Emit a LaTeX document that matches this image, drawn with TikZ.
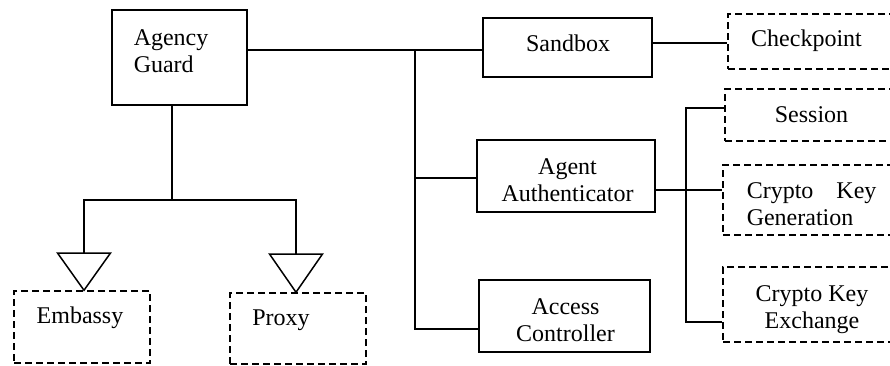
\documentclass[tikz,border=0pt]{standalone}
\usepackage{fontspec}
\setmainfont{Liberation Serif}
\usetikzlibrary{calc}
\begin{document}
\begin{tikzpicture}[x=1pt,y=-1pt,line width=1.5pt,
  box/.style={draw,rectangle,inner sep=0pt},
  dbox/.style={draw,rectangle,inner sep=0pt,dash pattern=on 7pt off 4pt},
  lbl/.style={font=\fontsize{24}{27}\selectfont,inner sep=0pt,align=center},
  lbll/.style={font=\fontsize{24}{27}\selectfont,inner sep=0pt,align=left,anchor=west}]
\useasboundingbox[fill=white] (0,0) rectangle (890,365);
\clip (0,0) rectangle (890,365);
% boxes
\node[box,minimum width=135pt,minimum height=95pt] (ag) at (179.5,57.5) {};
\node[box,minimum width=169pt,minimum height=59pt] (sb) at (567.5,47.5) {};
\node[box,minimum width=178pt,minimum height=72pt] (aa) at (566,176) {};
\node[box,minimum width=171pt,minimum height=72pt] (ac) at (564.5,316) {};
\node[dbox,minimum width=172pt,minimum height=55pt] (ck) at (814,41.5) {};
\node[dbox,minimum width=175pt,minimum height=52pt] (se) at (812.5,115) {};
\node[dbox,minimum width=177pt,minimum height=70pt] (ckg) at (811.5,200) {};
\node[dbox,minimum width=177pt,minimum height=75pt] (cke) at (811.5,304.5) {};
\node[dbox,minimum width=136pt,minimum height=72pt] (em) at (82,327) {};
\node[dbox,minimum width=136pt,minimum height=71pt] (px) at (298,328.5) {};
% labels
\node[lbll] (agt) at (133,53.1) {\strut Agency\\\strut Guard};
\node[lbl] (sbt) at (568,46.3) {\strut Sandbox};
\node[lbl] (aat) at (567.5,182.4) {\strut Agent\\\strut Authenticator};
\node[lbl] (act) at (565.5,323) {\strut Access\\\strut Controller};
\node[lbl] (ckt) at (806.5,41.3) {\strut Checkpoint};
\node[lbl] (set) at (811.5,117.3) {\strut Session};
\node[lbll] (ckgt) at (746,206.8) {\strut Crypto\hspace{17pt} Key\\\strut Generation};
\node[lbl] (cket) at (812,309.6) {\strut Crypto Key\\\strut Exchange};
\node[lbl] (emt) at (80,317.6) {\strut Embassy};
\node[lbl] (pxt) at (281,319.6) {\strut Proxy};
% junction coordinates
\coordinate (b0) at (415,50);
\coordinate (b1) at (415,178);
\coordinate (b2) at (415,329);
\coordinate (c0) at (700,43);
\coordinate (a0) at (686,190);
\coordinate (s0) at (686,108);
\coordinate (s1) at (686,322);
\coordinate (j0) at (172,200);
\coordinate (t1) at (84,253);
\coordinate (t2) at (296,254);
% connectors
\draw (ag.east |- b0) -- (b0) -- (b0 -| sb.west);
\draw (b0) -- (b2) -- (b2 -| ac.west);
\draw (b1) -- (b1 -| aa.west);
\draw (c0 -| sb.east) -- (c0 -| ck.west);
\draw (a0 -| aa.east) -- (a0 -| ckg.west);
\draw (s0 -| se.west) -- (s0) -- (s1) -- (s1 -| cke.west);
\draw (ag.south -| j0) -- (j0);
\draw (t1) |- (j0) -| (t2);
% triangles
\draw[line join=miter] ($(t1)+(-26.5,0)$) -- ($(t1)+(26.5,0)$) -- (em.north -| t1) -- cycle;
\draw[line join=miter] ($(t2)+(-26.5,0)$) -- ($(t2)+(26.5,0)$) -- (px.north -| t2) -- cycle;
\end{tikzpicture}
\end{document}
